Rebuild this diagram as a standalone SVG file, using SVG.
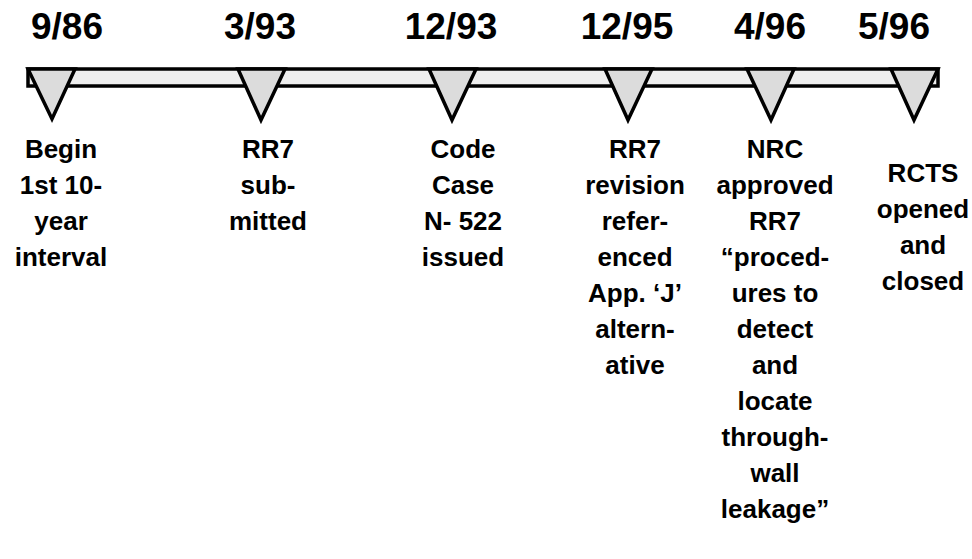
<svg xmlns="http://www.w3.org/2000/svg" width="972" height="559" viewBox="0 0 972 559">
<style>
.date{font-family:"Liberation Sans",Arial,sans-serif;font-weight:bold;font-size:37px;text-anchor:middle;fill:#000}
.lbl{font-family:"Liberation Sans",Arial,sans-serif;font-weight:bold;font-size:26px;text-anchor:middle;fill:#000}
.bar{fill:#eeeeee;stroke:#000;stroke-width:3.5}
.tri{fill:#dcdcdc;stroke:#000;stroke-width:3.5;stroke-linejoin:miter}
</style>
<rect width="972" height="559" fill="#fff"/>
<g id="connectors">
<rect class="bar" x="28" y="69" width="910" height="17"/>
</g>
<g id="ev1">
<polygon class="tri" points="28,69 75,69 52,119"/>
<text class="date" x="67" y="39">9/86</text>
<text class="lbl" x="61"><tspan x="61" y="158">Begin</tspan><tspan x="61" y="194">1st 10-</tspan><tspan x="61" y="230">year</tspan><tspan x="61" y="266">interval</tspan></text>
</g>
<g id="ev2">
<polygon class="tri" points="238,69 285,69 261,120"/>
<text class="date" x="260" y="39">3/93</text>
<text class="lbl" x="268"><tspan x="268" y="158">RR7</tspan><tspan x="268" y="194">sub-</tspan><tspan x="268" y="230">mitted</tspan></text>
</g>
<g id="ev3">
<polygon class="tri" points="429,69 476,69 452,120"/>
<text class="date" x="451" y="39">12/93</text>
<text class="lbl" x="463"><tspan x="463" y="158">Code</tspan><tspan x="463" y="194">Case</tspan><tspan x="463" y="230">N- 522</tspan><tspan x="463" y="266">issued</tspan></text>
</g>
<g id="ev4">
<polygon class="tri" points="605,69 652,69 628,120"/>
<text class="date" x="627" y="39">12/95</text>
<text class="lbl" x="635"><tspan x="635" y="158">RR7</tspan><tspan x="635" y="194">revision</tspan><tspan x="635" y="230">refer-</tspan><tspan x="635" y="266">enced</tspan><tspan x="635" y="302">App. ‘J’</tspan><tspan x="635" y="338">altern-</tspan><tspan x="635" y="374">ative</tspan></text>
</g>
<g id="ev5">
<polygon class="tri" points="747,69 794,69 771,120"/>
<text class="date" x="770" y="39">4/96</text>
<text class="lbl" x="775"><tspan x="775" y="158">NRC</tspan><tspan x="775" y="194">approved</tspan><tspan x="775" y="230">RR7</tspan><tspan x="775" y="266">“proced-</tspan><tspan x="775" y="302">ures to</tspan><tspan x="775" y="338">detect</tspan><tspan x="775" y="374">and</tspan><tspan x="775" y="410">locate</tspan><tspan x="775" y="446">through-</tspan><tspan x="775" y="482">wall</tspan><tspan x="775" y="518">leakage”</tspan></text>
</g>
<g id="ev6">
<polygon class="tri" points="891,69 938,69 914,120"/>
<text class="date" x="894" y="39">5/96</text>
<text class="lbl" x="923"><tspan x="923" y="182">RCTS</tspan><tspan x="923" y="218">opened</tspan><tspan x="923" y="254">and</tspan><tspan x="923" y="290">closed</tspan></text>
</g>
</svg>
